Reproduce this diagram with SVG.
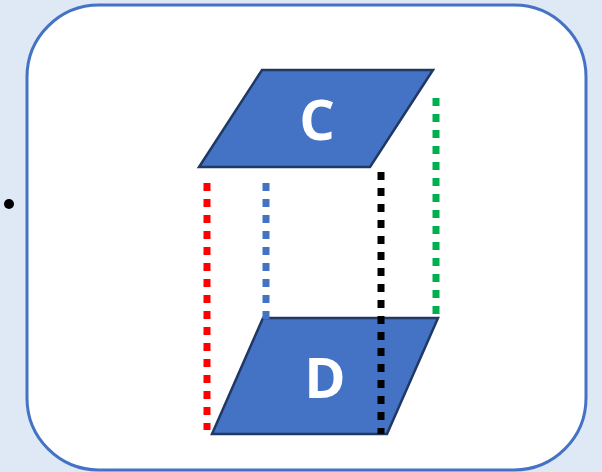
<svg xmlns="http://www.w3.org/2000/svg" width="602" height="472" viewBox="0 0 602 472">
  <style>
    .panel { fill: #ffffff; stroke: #4472c4; stroke-width: 3; }
    .shape { fill: #4472c4; stroke: #1f3864; stroke-width: 2.5; stroke-linejoin: miter; }
    .label { font-family: "Open Sans", "Liberation Sans", sans-serif; font-weight: bold; font-size: 56px; fill: #ffffff; text-anchor: middle; }
    .dots { stroke-width: 7; stroke-dasharray: 8 8; fill: none; }
  </style>
  <rect x="0" y="0" width="602" height="472" fill="#dee9f5"/>
  <rect class="panel" x="27" y="5" width="559" height="465" rx="72" ry="72"/>
  <circle cx="9" cy="204" r="5" fill="#000000"/>

  <g id="node-C">
    <polygon class="shape" points="262,70 433,70 370,167 199,167"/>
    <text class="label" x="317" y="140">C</text>
  </g>

  <g id="node-D">
    <polygon class="shape" points="263,318 438,318 387,434 212,434"/>
    <text class="label" x="325" y="398">D</text>
  </g>

  <g id="connectors">
    <line class="dots" x1="207" y1="183" x2="207" y2="430" stroke="#ff0000"/>
    <line class="dots" x1="266" y1="183" x2="266" y2="320" stroke="#4472c4"/>
    <line class="dots" x1="381" y1="172" x2="381" y2="434" stroke="#000000"/>
    <line class="dots" x1="436" y1="98" x2="436" y2="314" stroke="#00b050"/>
  </g>
</svg>
